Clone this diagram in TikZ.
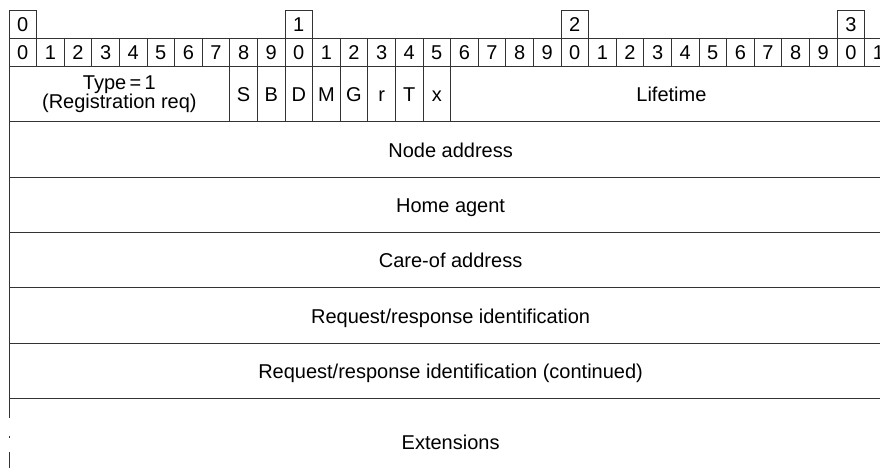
\documentclass[tikz,border=0pt]{standalone}
\usepackage{fontspec}
\setmainfont{Liberation Sans}
\usetikzlibrary{positioning}
\definecolor{cLine}{HTML}{333333}

\begin{document}
\begin{tikzpicture}[
    x=1pt, y=1pt,
    font=\fontsize{20}{18}\selectfont,
    bitbox/.style={draw=cLine, line width=1pt, outer sep=0pt, inner sep=0pt, minimum width=27.6pt, minimum height=27.7pt},
    field/.style={draw=cLine, line width=1pt, outer sep=0pt, inner sep=0pt, align=center, minimum height=55.3pt, text height=19pt, text depth=4pt},
    word/.style={field, minimum width=883.2pt},
  ]
  \useasboundingbox (0,0) rectangle (880,-468);
  \clip (0,0) rectangle (880,-468);

  % --- bit numbering ---
  \foreach \d in {0,...,3}
    \node[bitbox, anchor=north west] (dec\d) at ({9+\d*276},-11) {\d};
  \foreach \i in {0,...,31} {
    \pgfmathtruncatemacro{\u}{mod(\i,10)}
    \node[bitbox, anchor=north west] (bit\i) at ({9+\i*27.6},-39) {\u};
  }

  % --- first word: type, flags, lifetime ---
  \node[field, text height=, text depth=, minimum width=220.8pt, anchor=north west] (type) at (bit0.south west)
    {Type\,=\,1\\(Registration req)};
  \foreach \f [count=\k from 8] in {S,B,D,M,G,r,T,x}
    \node[field, minimum width=27.6pt, anchor=north west] (flag\f) at (bit\k.south west) {\f};
  \node[field, minimum width=441.6pt, anchor=north west] (life) at (bit16.south west) {Lifetime};

  % --- full words ---
  \node[word, anchor=north west] (naddr) at (type.south west) {Node address};
  \node[word, below=0pt of naddr] (home) {Home agent};
  \node[word, below=0pt of home] (coa) {Care-of address};
  \node[word, below=0pt of coa] (reqid) {Request/response identification};
  \node[word, below=0pt of reqid] (reqcont) {Request/response identification (continued)};

  % --- extensions, open ended ---
  \node[minimum width=883.2pt, minimum height=87pt, inner sep=0pt, outer sep=0pt, text height=19pt, text depth=4pt, below=0pt of reqcont] (ext) {Extensions};
  \draw[cLine, line width=1pt] (ext.north west) -- (ext.north east);
  \draw[cLine, line width=1pt, dash pattern=on 19.5pt off 18pt on 2pt off 14pt on 40pt] (ext.north west) -- (ext.south west);
\end{tikzpicture}
\end{document}
